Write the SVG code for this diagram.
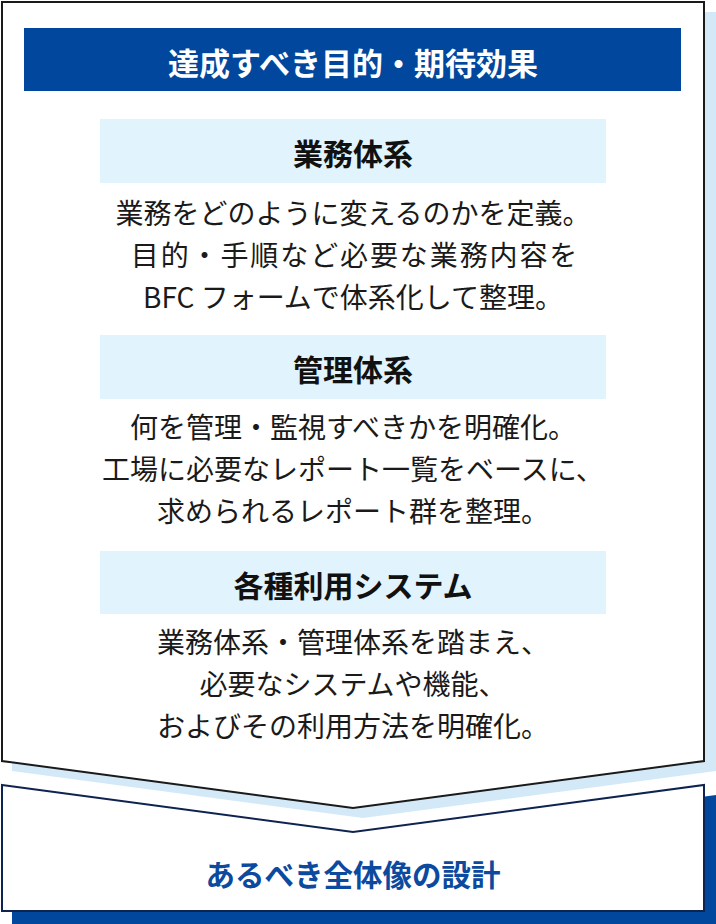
<svg xmlns="http://www.w3.org/2000/svg" width="716" height="924" viewBox="0 0 716 924">
<style>
.t{font-family:"Noto Sans CJK JP","Noto Sans",sans-serif;text-anchor:middle;dominant-baseline:central}
.hd{font-size:31px;font-weight:700;fill:#ffffff}
.st{font-size:30px;font-weight:700;fill:#111111}
.bd{font-size:28px;font-weight:400;fill:#1a1a1a}
.ft{font-size:29.5px;font-weight:700;fill:#0b4a9e}
.lb{fill:#e1f3fc}
</style>
<rect x="0" y="0" width="716" height="924" fill="#ffffff"/>
<g id="shadows">
<path d="M12,12 H716 V771 L363,818 L12,771 Z" fill="#d4e9f8"/>
<path d="M12,795 L363,842 L716,795 V924 H12 Z" fill="#00479d"/>
</g>
<g id="main-panel">
<path d="M2,2 H704 V761 L353,808 L2,761 Z" fill="#ffffff" stroke="#1a1a1a" stroke-width="2"/>
</g>
<g id="header">
<rect x="24" y="28" width="657" height="63" fill="#00479d"/>
<text class="t hd" x="353" y="61">達成すべき目的・期待効果</text>
</g>
<g id="section-1">
<rect class="lb" x="100" y="119" width="506" height="64"/>
<text class="t st" x="353" y="152">業務体系</text>
<text class="t bd" x="353" y="212">業務をどのように変えるのかを定義。</text>
<text class="t bd" x="355" y="254" letter-spacing="1.9">目的・手順など必要な業務内容を</text>
<text class="t bd" x="353" y="296">BFC フォームで体系化して整理。</text>
</g>
<g id="section-2">
<rect class="lb" x="100" y="335" width="506" height="64"/>
<text class="t st" x="353" y="368">管理体系</text>
<text class="t bd" x="353" y="426">何を管理・監視すべきかを明確化。</text>
<text class="t bd" x="353" y="468">工場に必要なレポート一覧をベースに、</text>
<text class="t bd" x="353" y="510">求められるレポート群を整理。</text>
</g>
<g id="section-3">
<rect class="lb" x="100" y="551" width="506" height="63"/>
<text class="t st" x="353" y="584">各種利用システム</text>
<text class="t bd" x="353" y="641">業務体系・管理体系を踏まえ、</text>
<text class="t bd" x="353" y="683">必要なシステムや機能、</text>
<text class="t bd" x="353" y="725">およびその利用方法を明確化。</text>
</g>
<g id="result-box">
<path d="M2,785 L353,832 L704,785 V911 H2 Z" fill="#ffffff" stroke="#0f2350" stroke-width="2"/>
<text class="t ft" x="353" y="873">あるべき全体像の設計</text>
</g>
<g id="connectors"></g>
</svg>
